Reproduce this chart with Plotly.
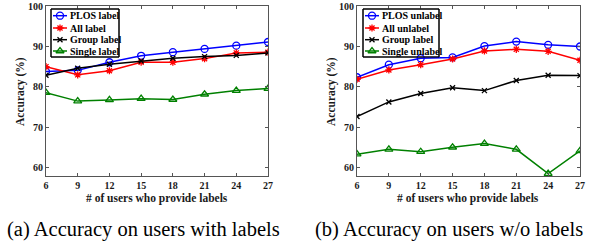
import plotly.graph_objects as go

users = [6, 9, 12, 15, 18, 21, 24, 27]

# (a) users with labels
plos_label = [83.8, 84.1, 86.1, 87.7, 88.6, 89.4, 90.2, 91.1]
all_label = [85.0, 83.0, 84.0, 86.1, 86.1, 87.0, 88.4, 88.6]
group_label = [82.9, 84.6, 85.6, 86.4, 87.1, 87.5, 87.8, 88.4]
single_label = [78.6, 76.5, 76.8, 77.1, 76.9, 78.2, 79.1, 79.6]

# (b) users without labels
plos_unlabel = [82.4, 85.5, 87.1, 87.3, 90.1, 91.2, 90.4, 90.0]
all_unlabel = [81.9, 84.2, 85.5, 86.9, 88.9, 89.3, 88.8, 86.6]
group_unlabel = [72.7, 76.3, 78.4, 79.8, 79.1, 81.6, 82.9, 82.8]
single_unlabel = [63.4, 64.6, 64.0, 65.1, 66.0, 64.6, 58.6, 64.2]

names_a = ["PLOS label", "All label", "Group label", "Single label"]
names_b = ["PLOS unlabel", "All unlabel", "Group label", "Single unlabel"]
x_ticks = [6, 9, 12, 15, 18, 21, 24, 27]
y_ticks = [60, 70, 80, 90, 100]

W, H = 595, 244
FONT = "Liberation Serif"

styles = [
    dict(color="#0000ff", symbol="circle-open", size=7),
    dict(color="#ff0000", symbol="asterisk-open", size=6),
    dict(color="#000000", symbol="x-thin-open", size=5),
    dict(color="#008000", symbol="triangle-up-open", size=7),
]

fig = go.Figure()

panels = [
    dict(series=[plos_label, all_label, group_label, single_label], names=names_a,
         xa="x", ya="y", legbox=(51, 9, 119, 57)),
    dict(series=[plos_unlabel, all_unlabel, group_unlabel, single_unlabel], names=names_b,
         xa="x2", ya="y2", legbox=(363, 9, 439, 57)),
]

for p in panels:
    for vals, nm, st in zip(p["series"], p["names"], styles):
        fig.add_trace(go.Scatter(
            x=users, y=vals, name=nm, mode="lines+markers", showlegend=False,
            xaxis=p["xa"], yaxis=p["ya"],
            line=dict(color=st["color"], width=1.5),
            marker=dict(symbol=st["symbol"], size=st["size"], color=st["color"],
                        line=dict(color=st["color"], width=1.3)),
        ))

def px(x):
    return x / W

def py(y):
    return 1 - y / H

# manual compact legends on a pixel-space overlay axis (x3/y3)
annotations = []
shapes = []
row_y = [15.7, 28.0, 39.7, 51.0]
for p in panels:
    x0, y0, x1, y1 = p["legbox"]
    # box border drawn both as a shape and as an outline trace
    shapes.append(dict(type="rect", xref="paper", yref="paper",
                       x0=px(x0), y0=py(y0), x1=px(x1), y1=py(y1),
                       line=dict(color="#000000", width=1), fillcolor="white",
                       layer="below"))
    fig.add_trace(go.Scatter(
        x=[x0, x1, x1, x0, x0], y=[y0, y0, y1, y1, y0], mode="lines",
        line=dict(color="#000000", width=1), showlegend=False,
        xaxis="x3", yaxis="y3", hoverinfo="skip", cliponaxis=False,
    ))
    for ry, nm, st in zip(row_y, p["names"], styles):
        fig.add_trace(go.Scatter(
            x=[x0 + 2, x0 + 16], y=[ry, ry], mode="lines", showlegend=False,
            xaxis="x3", yaxis="y3", hoverinfo="skip",
            line=dict(color=st["color"], width=1.5),
        ))
        fig.add_trace(go.Scatter(
            x=[x0 + 9], y=[ry], mode="markers", showlegend=False,
            xaxis="x3", yaxis="y3", hoverinfo="skip",
            marker=dict(symbol=st["symbol"], size=st["size"], color=st["color"],
                        line=dict(color=st["color"], width=1.3)),
        ))
        annotations.append(dict(text=nm, x=px(x0 + 17), y=py(ry), xref="paper", yref="paper",
                                xanchor="left", yanchor="middle", showarrow=False,
                                font=dict(family=FONT, size=10, color="#000000", weight="bold")))

tickfont = dict(family=FONT, size=10, color="#1a1a1a", weight="bold")
axis_common = dict(
    showgrid=False, zeroline=False, showline=True, mirror="allticks",
    linecolor="#555555", linewidth=1, ticks="inside", ticklen=3,
    tickcolor="#555555", tickfont=tickfont, automargin=False,
)
xdom1 = [46 / W, 268 / W]
xdom2 = [357 / W, 580 / W]
ydom = [1 - 176 / H, 1 - 6 / H]

fig.update_layout(
    width=W, height=H,
    margin=dict(l=0, r=0, t=0, b=0, pad=0, autoexpand=False),
    plot_bgcolor="rgba(0,0,0,0)", paper_bgcolor="white",
    font=dict(family=FONT, color="#1a1a1a"),
    xaxis=dict(domain=xdom1, range=[6, 27], tickvals=x_ticks, anchor="y", **axis_common),
    yaxis=dict(domain=ydom, range=[58, 100], tickvals=y_ticks, anchor="x", **axis_common),
    xaxis2=dict(domain=xdom2, range=[6, 27], tickvals=x_ticks, anchor="y2", **axis_common),
    yaxis2=dict(domain=ydom, range=[58, 100], tickvals=y_ticks, anchor="x2", **axis_common),
    xaxis3=dict(domain=[0, 1], range=[0, W], visible=False, anchor="y3", fixedrange=True),
    yaxis3=dict(domain=[0, 1], range=[H, 0], visible=False, anchor="x3", fixedrange=True),
    showlegend=False,
)

def ann(text, x, y, size, angle=0, bold=False, color="#1a1a1a"):
    return dict(text=text, x=px(x), y=py(y), xref="paper", yref="paper",
                xanchor="center", yanchor="middle", showarrow=False, textangle=angle,
                font=dict(family=FONT, size=size, color=color,
                          weight="bold" if bold else "normal"))

annotations += [
    ann("# of users who provide labels", 157, 198.5, 11.5, bold=True),
    ann("# of users who provide labels", 468, 198.5, 11.5, bold=True),
    ann("Accuracy (%)", 20, 92, 11.5, angle=-90, bold=True),
    ann("Accuracy (%)", 331, 92, 11.5, angle=-90, bold=True),
    ann("(a) Accuracy on users with labels", 143, 229, 20.5, color="#000000"),
    ann("(b) Accuracy on users w/o labels", 449, 229, 20.5, color="#000000"),
]
fig.update_layout(annotations=annotations, shapes=shapes)

fig.write_html("out.html", config={"displayModeBar": False},
               post_script="document.body.style.margin='0';")
